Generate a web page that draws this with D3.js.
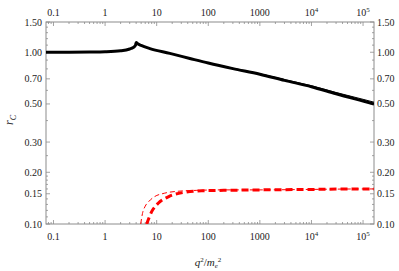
<!DOCTYPE html>
<html>
<head>
<meta charset="utf-8">
<script src="https://cdn.jsdelivr.net/npm/d3@7"></script>
<style>
  body { margin: 0; background: #fff; }
  svg { display: block; }
  text { font-family: "Liberation Serif", "Times New Roman", "DejaVu Serif", serif; fill: #222; }
</style>
</head>
<body>
<script>
const width = 399;
const height = 271;

// thick black curve
const blackThickQ = [0.0716, 0.2, 0.5, 1, 2, 3, 3.5, 3.9, 4.0, 4.3, 5, 7.4, 18, 44, 100, 300, 1000, 3000, 10000, 30000, 100000, 163000];
const blackThickR = [1.0, 1.0, 1.002, 1.006, 1.02, 1.045, 1.065, 1.1, 1.14, 1.12, 1.095, 1.05, 0.985, 0.92, 0.865, 0.803, 0.745, 0.686, 0.63, 0.573, 0.52, 0.50];

// thin black curve
const blackThinQ = [0.0716, 0.2, 0.5, 1, 2, 3, 3.5, 3.9, 4.0, 4.3, 5, 7.4, 18, 44, 100, 300, 1000, 3000, 10000, 30000, 100000, 163000];
const blackThinR = [1.0, 1.0, 1.002, 1.006, 1.02, 1.045, 1.065, 1.1, 1.14, 1.12, 1.095, 1.05, 0.985, 0.921, 0.867, 0.806, 0.75, 0.693, 0.638, 0.583, 0.532, 0.512];

// thick red dashed curve
const redThickQ = [6.4, 8, 10.7, 16.8, 35, 74, 200, 1000, 10000, 100000, 163000];
const redThickR = [0.1, 0.118, 0.132, 0.144, 0.153, 0.156, 0.157, 0.158, 0.159, 0.16, 0.16];

// thin red dashed curve
const redThinQ = [4.9, 5.3, 6, 7, 9, 14, 25, 60, 200, 1000, 10000, 100000, 163000];
const redThinR = [0.1, 0.115, 0.127, 0.135, 0.144, 0.151, 0.155, 0.157, 0.158, 0.158, 0.159, 0.16, 0.16];

const xMajor = [0.1, 1, 10, 100, 1000, 10000, 100000];
const xMajorLabels = ["0.1", "1", "10", "100", "1000", "10^4", "10^5"];
const yMajor = [0.1, 0.15, 0.2, 0.3, 0.5, 0.7, 1.0, 1.5];
const yMajorLabels = ["0.10", "0.15", "0.20", "0.30", "0.50", "0.70", "1.00", "1.50"];
const yMinor = [0.11, 0.12, 0.13, 0.14, 0.16, 0.17, 0.18, 0.19, 0.25, 0.4, 0.6, 0.8, 0.9, 1.1, 1.2, 1.3, 1.4];

const plotLeft = 46, plotRight = 374, plotTop = 22, plotBottom = 224;

const x = d3.scaleLog().domain([0.0716, 163000]).range([plotLeft, plotRight]);
const y = d3.scaleLog().domain([0.1, 1.5]).range([plotBottom, plotTop]);

const xMinor = [];
for (let e = -2; e <= 5; e++) {
  for (let m = 2; m <= 9; m++) {
    const v = m * Math.pow(10, e);
    if (v > x.domain()[0] && v < x.domain()[1]) xMinor.push(v);
  }
}

const svg = d3.select("body").append("svg")
  .attr("width", width)
  .attr("height", height);

svg.append("defs").append("clipPath").attr("id", "plot-clip")
  .append("rect")
  .attr("x", plotLeft).attr("y", plotTop)
  .attr("width", plotRight - plotLeft).attr("height", plotBottom - plotTop);

// frame
svg.append("rect")
  .attr("x", plotLeft).attr("y", plotTop)
  .attr("width", plotRight - plotLeft).attr("height", plotBottom - plotTop)
  .attr("fill", "none")
  .attr("stroke", "#8c8c8c")
  .attr("stroke-width", 1);

const ticks = svg.append("g").attr("stroke", "#8c8c8c").attr("stroke-width", 0.8);

// x ticks, bottom and top, pointing inward
ticks.selectAll(".xmaj").data(xMajor).join("g").each(function (d) {
  const g = d3.select(this);
  g.append("line").attr("x1", x(d)).attr("x2", x(d)).attr("y1", plotBottom).attr("y2", plotBottom - 4);
  g.append("line").attr("x1", x(d)).attr("x2", x(d)).attr("y1", plotTop).attr("y2", plotTop + 4);
});
ticks.selectAll(".xmin").data(xMinor).join("g").each(function (d) {
  const g = d3.select(this);
  g.append("line").attr("x1", x(d)).attr("x2", x(d)).attr("y1", plotBottom).attr("y2", plotBottom - 2);
  g.append("line").attr("x1", x(d)).attr("x2", x(d)).attr("y1", plotTop).attr("y2", plotTop + 2);
});

// y ticks, left and right
ticks.selectAll(".ymaj").data(yMajor).join("g").each(function (d) {
  const g = d3.select(this);
  g.append("line").attr("y1", y(d)).attr("y2", y(d)).attr("x1", plotLeft).attr("x2", plotLeft + 4);
  g.append("line").attr("y1", y(d)).attr("y2", y(d)).attr("x1", plotRight).attr("x2", plotRight - 4);
});
ticks.selectAll(".ymin").data(yMinor).join("g").each(function (d) {
  const g = d3.select(this);
  g.append("line").attr("y1", y(d)).attr("y2", y(d)).attr("x1", plotLeft).attr("x2", plotLeft + 2);
  g.append("line").attr("y1", y(d)).attr("y2", y(d)).attr("x1", plotRight).attr("x2", plotRight - 2);
});

// x tick labels
function xLabel(sel, ty) {
  sel.each(function (d, i) {
    const t = d3.select(this)
      .attr("x", x(d))
      .attr("y", ty)
      .attr("text-anchor", "middle")
      .attr("font-size", 10);
    const lab = xMajorLabels[i];
    if (lab.includes("^")) {
      const [b, p] = lab.split("^");
      t.append("tspan").text(b);
      t.append("tspan").attr("dy", -4).attr("font-size", 7).text(p);
    } else {
      t.text(lab);
    }
  });
}
svg.append("g").selectAll("text").data(xMajor).join("text").call(xLabel, 240);
svg.append("g").selectAll("text").data(xMajor).join("text").call(xLabel, 16);

// y tick labels
svg.append("g").selectAll("text").data(yMajor).join("text")
  .attr("x", plotLeft - 4)
  .attr("y", (d) => y(d) + 3.5)
  .attr("text-anchor", "end")
  .attr("font-size", 10)
  .text((d, i) => yMajorLabels[i]);
svg.append("g").selectAll("text").data(yMajor).join("text")
  .attr("x", plotRight + 3)
  .attr("y", (d) => y(d) + 3.5)
  .attr("text-anchor", "start")
  .attr("font-size", 10)
  .text((d, i) => yMajorLabels[i]);

// axis titles
const yTitle = svg.append("text")
  .attr("transform", "translate(13,120) rotate(-90)")
  .attr("text-anchor", "middle")
  .attr("font-size", 12)
  .attr("font-style", "italic");
yTitle.append("tspan").text("r");
yTitle.append("tspan").attr("dy", 3).attr("font-size", 8).text("C");

const xTitle = svg.append("text")
  .attr("x", 208)
  .attr("y", 266)
  .attr("text-anchor", "middle")
  .attr("font-size", 11)
  .attr("font-style", "italic");
xTitle.append("tspan").text("q");
xTitle.append("tspan").attr("dy", -4).attr("font-size", 7).attr("font-style", "normal").text("2");
xTitle.append("tspan").attr("dy", 4).attr("font-style", "normal").text("/");
xTitle.append("tspan").text("m");
xTitle.append("tspan").attr("dy", 2).attr("font-size", 7).text("e");
xTitle.append("tspan").attr("dy", -6).attr("font-size", 7).attr("font-style", "normal").text("2");

// curves
const line = d3.line()
  .x((d) => x(d[0]))
  .y((d) => y(d[1]))
  .curve(d3.curveMonotoneX);

const plot = svg.append("g").attr("clip-path", "url(#plot-clip)");

plot.append("path")
  .datum(d3.zip(blackThinQ, blackThinR))
  .attr("d", line)
  .attr("fill", "none")
  .attr("stroke", "#000")
  .attr("stroke-width", 1);

plot.append("path")
  .datum(d3.zip(blackThickQ, blackThickR))
  .attr("d", line)
  .attr("fill", "none")
  .attr("stroke", "#000")
  .attr("stroke-width", 3);

plot.append("path")
  .datum(d3.zip(redThinQ, redThinR))
  .attr("d", line)
  .attr("fill", "none")
  .attr("stroke", "#ff0000")
  .attr("stroke-width", 1)
  .attr("stroke-dasharray", "5,3");

plot.append("path")
  .datum(d3.zip(redThickQ, redThickR))
  .attr("d", line)
  .attr("fill", "none")
  .attr("stroke", "#ff0000")
  .attr("stroke-width", 3)
  .attr("stroke-dasharray", "7,4");
</script>
</body>
</html>
